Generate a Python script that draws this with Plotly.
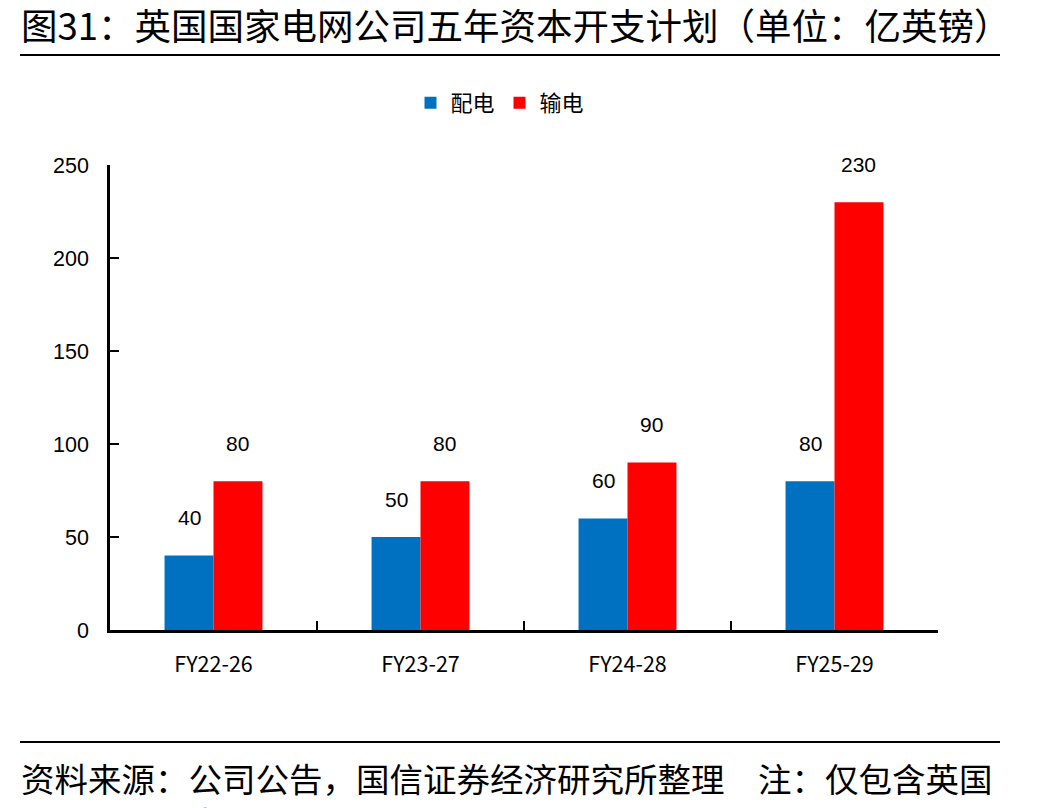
import plotly.graph_objects as go

categories = ["FY22-26", "FY23-27", "FY24-28", "FY25-29"]
distribution = [40, 50, 60, 80]      # 配电
transmission = [80, 80, 90, 230]     # 输电
series_names = ["配电", "输电"]
y_ticks = [0, 50, 100, 150, 200, 250]

title_text = "图31：英国国家电网公司五年资本开支计划（单位：亿英镑）"
source_text = "资料来源：公司公告，国信证券经济研究所整理　注：仅包含英国<br>本土资本开支"

W, H = 1051, 808
L, R, T, B = 110, 113, 165, 178
pw, ph = W - L - R, H - T - B
def px(x): return (x - L) / pw
def py(y): return (H - B - y) / ph

BLUE = "#0070C0"
RED = "#FF0000"
bargap = 0.527
cjk = "Noto Sans CJK SC"
latin = "Liberation Sans, Arial"

fig = go.Figure()
fig.add_trace(go.Bar(x=categories, y=distribution, name=series_names[0],
                     marker=dict(color=BLUE, line=dict(width=0))))
fig.add_trace(go.Bar(x=categories, y=transmission, name=series_names[1],
                     marker=dict(color=RED, line=dict(width=0))))

shift = pw / len(categories) * (1 - bargap) / 4
annotations = []
for vals, s in ((distribution, -shift), (transmission, shift)):
    for c, v in zip(categories, vals):
        annotations.append(dict(x=c, y=v, xref="x", yref="y", text=str(v),
                                showarrow=False, xshift=s, yshift=38,
                                font=dict(family=latin, size=21, color="#000")))

annotations.append(dict(x=px(19), y=py(24), xref="paper", yref="paper",
                        xanchor="left", yanchor="middle", text=title_text,
                        showarrow=False, font=dict(family=cjk, size=36.5, color="#000")))
annotations.append(dict(x=px(19), y=py(751), xref="paper", yref="paper",
                        xanchor="left", yanchor="top", text=source_text, align="left",
                        showarrow=False, font=dict(family=cjk, size=33.5, color="#000")))

shapes = [
    dict(type="line", xref="paper", yref="paper", x0=px(20), x1=px(1000),
         y0=py(55), y1=py(55), line=dict(color="#000", width=2)),
    dict(type="line", xref="paper", yref="paper", x0=px(20), x1=px(1000),
         y0=py(742), y1=py(742), line=dict(color="#000", width=2)),
]

fig.update_layout(
    width=W, height=H,
    margin=dict(l=L, r=R, t=T, b=B, pad=0),
    paper_bgcolor="white", plot_bgcolor="white",
    barmode="group", bargap=bargap, bargroupgap=0,
    showlegend=True,
    legend=dict(orientation="h", x=px(500), y=py(103), xanchor="center", yanchor="middle",
                font=dict(family=cjk, size=22, color="#000"), itemwidth=30,
                tracegroupgap=0, bgcolor="rgba(0,0,0,0)"),
    annotations=annotations,
    shapes=shapes,
    xaxis=dict(showline=True, linecolor="#000", linewidth=2.5, ticks="inside",
               tickson="boundaries", ticklen=9, tickwidth=2, tickcolor="#000",
               showgrid=False, tickfont=dict(family=cjk, size=21.5, color="#000"),
               ticklabelstandoff=13),
    yaxis=dict(range=[0, 250], tickvals=y_ticks, showline=True, linecolor="#000",
               linewidth=2.5, ticks="inside", ticklen=9, tickwidth=2, tickcolor="#000",
               showgrid=False, zeroline=False,
               tickfont=dict(family=latin, size=21.5, color="#000"),
               ticklabelstandoff=14),
)

fig.write_html("out.html")
